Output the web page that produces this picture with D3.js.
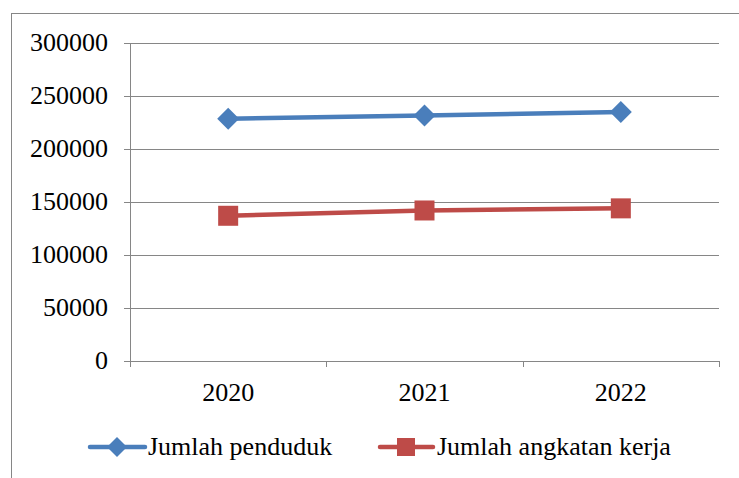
<!DOCTYPE html>
<html>
<head>
<meta charset="utf-8">
<script src="https://cdn.jsdelivr.net/npm/d3@7"></script>
<style>
  body { margin: 0; background: #fff; }
</style>
</head>
<body>
<div id="chart"></div>
<script>
// data
var years = ["2020", "2021", "2022"];
var penduduk = [228500, 231500, 235000];
var angkatanKerja = [137000, 142000, 144000];
var yTicks = [0, 50000, 100000, 150000, 200000, 250000, 300000];
var seriesNames = ["Jumlah penduduk", "Jumlah angkatan kerja"];

var W = 739, H = 478;
var plot = {left: 130, right: 719, top: 43, bottom: 361};
var FONT = "'Liberation Serif', 'Times New Roman', serif";

var svg = d3.select("#chart").append("svg")
    .attr("width", W)
    .attr("height", H)
    .style("font-family", FONT);

// outer chart border
svg.append("rect")
    .attr("x", 11.5).attr("y", 13.5)
    .attr("width", 760).attr("height", 500)
    .attr("fill", "none")
    .attr("stroke", "#868686")
    .attr("stroke-width", 1);

// scales
var xBand = d3.scaleBand()
    .domain(years)
    .range([plot.left, plot.right]);
var yScale = d3.scaleLinear()
    .domain([0, 300000])
    .range([plot.bottom, plot.top]);

// gridlines
svg.append("g")
    .selectAll("line")
    .data(yTicks)
    .enter()
    .append("line")
    .attr("x1", plot.left - 6)
    .attr("x2", plot.right)
    .attr("y1", d => Math.round(yScale(d)) + 0.5)
    .attr("y2", d => Math.round(yScale(d)) + 0.5)
    .attr("stroke", "#868686")
    .attr("stroke-width", 1.2);

// y axis line + labels
svg.append("line")
    .attr("x1", plot.left + 0.5).attr("x2", plot.left + 0.5)
    .attr("y1", plot.top).attr("y2", plot.bottom + 6)
    .attr("stroke", "#868686");

svg.append("g")
    .selectAll("text")
    .data(yTicks)
    .enter()
    .append("text")
    .attr("x", 108)
    .attr("y", d => yScale(d) + 8)
    .attr("text-anchor", "end")
    .attr("font-family", FONT)
    .attr("font-size", "26px")
    .text(d => d);

// x axis ticks
var xTickPos = years.map(d => xBand(d)).concat([plot.right]);
svg.append("g")
    .selectAll("line")
    .data(xTickPos)
    .enter()
    .append("line")
    .attr("x1", d => Math.round(d) + 0.5)
    .attr("x2", d => Math.round(d) + 0.5)
    .attr("y1", plot.bottom)
    .attr("y2", plot.bottom + 6)
    .attr("stroke", "#868686");

svg.append("g")
    .selectAll("text")
    .data(years)
    .enter()
    .append("text")
    .attr("x", d => xBand(d) + xBand.bandwidth() / 2)
    .attr("y", 401)
    .attr("text-anchor", "middle")
    .attr("font-family", FONT)
    .attr("font-size", "26px")
    .text(d => d);

var cx = d => xBand(d) + xBand.bandwidth() / 2;
var line = d3.line()
    .x((d, i) => cx(years[i]))
    .y(d => yScale(d));

var blue = "#4a7ebb", red = "#be4b48";

function diamond(g, x, y, r) {
    g.append("path")
        .attr("d", "M" + x + "," + (y - r) + "L" + (x + r) + "," + y + "L" + x + "," + (y + r) + "L" + (x - r) + "," + y + "Z")
        .attr("fill", blue);
}
function square(g, x, y, s) {
    g.append("rect")
        .attr("x", x - s / 2).attr("y", y - s / 2)
        .attr("width", s).attr("height", s)
        .attr("fill", red);
}

// series
svg.append("path")
    .datum(penduduk)
    .attr("fill", "none")
    .attr("stroke", blue)
    .attr("stroke-width", 4.5)
    .attr("d", line);
var blueMarks = svg.append("g");
penduduk.forEach((v, i) => diamond(blueMarks, cx(years[i]), yScale(v), 11));

svg.append("path")
    .datum(angkatanKerja)
    .attr("fill", "none")
    .attr("stroke", red)
    .attr("stroke-width", 4.5)
    .attr("d", line);
var redMarks = svg.append("g");
angkatanKerja.forEach((v, i) => square(redMarks, cx(years[i]), yScale(v), 20));

// legend
var legY = 447;
var leg = svg.append("g");
leg.append("line")
    .attr("x1", 90).attr("x2", 145)
    .attr("y1", legY).attr("y2", legY)
    .attr("stroke", blue).attr("stroke-width", 4.5).attr("stroke-linecap", "round");
diamond(leg, 117, legY, 10);
leg.append("text")
    .attr("x", 148).attr("y", legY + 8)
    .attr("font-family", FONT)
    .attr("font-size", "26px")
    .text(seriesNames[0]);

leg.append("line")
    .attr("x1", 380).attr("x2", 433)
    .attr("y1", legY).attr("y2", legY)
    .attr("stroke", red).attr("stroke-width", 4.5).attr("stroke-linecap", "round");
square(leg, 406, legY, 18);
leg.append("text")
    .attr("x", 437).attr("y", legY + 8)
    .attr("font-family", FONT)
    .attr("font-size", "26px")
    .text(seriesNames[1]);
</script>
</body>
</html>
